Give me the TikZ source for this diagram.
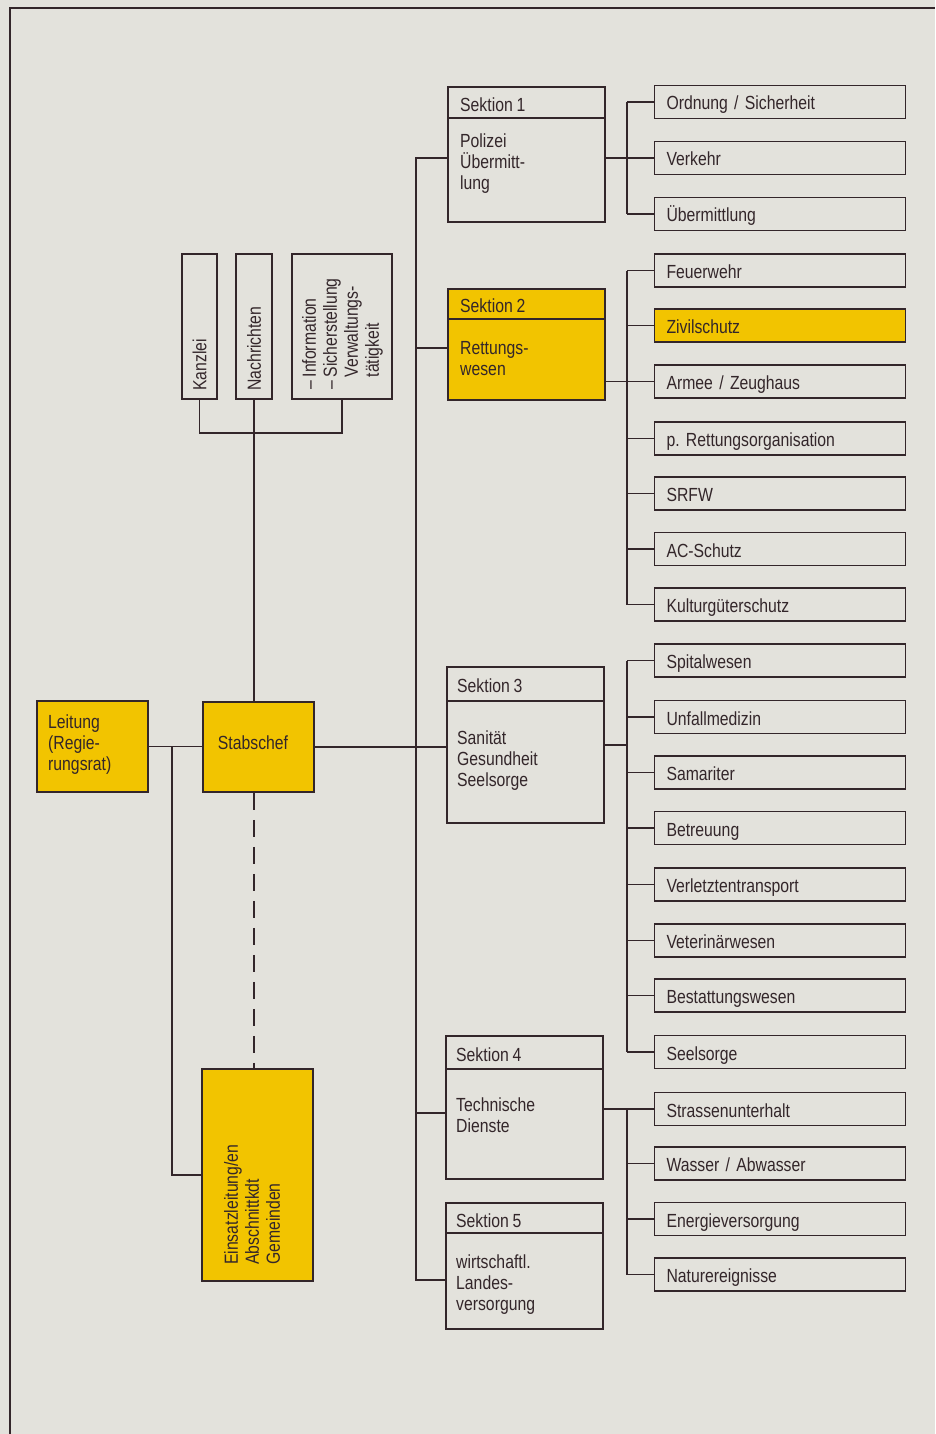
\documentclass[tikz,border=0pt]{standalone}
\usepackage{fontspec}
\setmainfont{Liberation Sans}[FakeStretch=0.83, WordSpace=0.85]
\frenchspacing
\definecolor{paper}{HTML}{E3E2DC}
\definecolor{ink}{HTML}{33262A}
\definecolor{gold}{HTML}{F2C400}
\begin{document}
\begin{tikzpicture}[x=1pt,y=-1pt,
  every node/.style={text=ink, font=\fontsize{19}{21}\selectfont\frenchspacing},
  line/.style={draw=ink, line width=1.8pt},
  frame/.style 2 args={draw=ink, line width=1.8pt, rectangle, inner sep=0pt, minimum width=#1, minimum height=#2},
  item/.style={draw=ink, line width=1.8pt, rectangle, minimum width=251pt, minimum height=33pt, text width=227pt, inner xsep=12pt, inner ysep=0pt, align=left, text height=17pt, text depth=1pt},
  lbl/.style={inner sep=0pt, anchor=west, align=left},
  vlbl/.style={inner sep=0pt, rotate=90, align=left},
  dashedline/.style={line, dash pattern=on 17pt off 10pt}
]
\fill[paper] (0,0) rectangle (935,1434);
\useasboundingbox (0,0) rectangle (935,1434);
% outer frame
\draw[line] (10,1434) -- (10,8) -- (935,8);

% left column boxes
\node[frame={111pt}{91pt}, fill=gold] (lei) at (92.5,746.5) {};
\node[lbl] (leit) at (48,745) {Leitung\\(Regie-\\rungsrat)};
\node[frame={111pt}{90pt}, fill=gold] (stab) at (258.5,747) {};
\node[inner sep=0pt] (stabt) at (253,743) {Stabschef};
\node[frame={111pt}{212pt}, fill=gold] (ein) at (257.5,1175) {};
\node[vlbl, anchor=north west] (eint) at (224,1265) {Einsatzleitung/en\\Abschnittkdt\\Gemeinden};

% staff boxes
\node[frame={35pt}{145pt}] (kan) at (199.5,326.5) {};
\node[vlbl, anchor=west] (kant) at (199.5,391) {Kanzlei};
\node[frame={36pt}{145pt}] (nach) at (254,326.5) {};
\node[vlbl, anchor=west] (nacht) at (254,391) {Nachrichten};
\node[frame={100pt}{145pt}] (info) at (342,326.5) {};
\node[vlbl, anchor=north west] (infot) at (302,390) {– Information\\– Sicherstellung\\\phantom{– }Verwaltungs-\\\phantom{– }tätigkeit};

% sections
\node[frame={157pt}{135pt}] (s1) at (526.5,154.5) {};
\draw[line] ([yshift=-32pt]s1.north west) -- ([yshift=-32pt]s1.north east);
\node[lbl] (s1h) at (460,105) {Sektion 1};
\node[lbl] (s1b) at (460,164) {Polizei\\Übermitt-\\lung};

\node[frame={157pt}{111pt}, fill=gold] (s2) at (526.5,344.5) {};
\draw[line] ([yshift=-31pt]s2.north west) -- ([yshift=-31pt]s2.north east);
\node[lbl] (s2h) at (460,306) {Sektion 2};
\node[lbl] (s2b) at (460,359) {Rettungs-\\wesen};

\node[frame={157pt}{156pt}] (s3) at (525.5,745) {};
\draw[line] ([yshift=-35pt]s3.north west) -- ([yshift=-35pt]s3.north east);
\node[lbl] (s3h) at (457,686) {Sektion 3};
\node[lbl] (s3b) at (457,761) {Sanität\\Gesundheit\\Seelsorge};

\node[frame={157pt}{143pt}] (s4) at (524.5,1107.5) {};
\draw[line] ([yshift=-34pt]s4.north west) -- ([yshift=-34pt]s4.north east);
\node[lbl] (s4h) at (456,1055) {Sektion 4};
\node[lbl] (s4b) at (456,1115) {Technische\\Dienste};

\node[frame={157pt}{126pt}] (s5) at (524.5,1266) {};
\draw[line] ([yshift=-31pt]s5.north west) -- ([yshift=-31pt]s5.north east);
\node[lbl] (s5h) at (456,1221) {Sektion 5};
\node[lbl] (s5b) at (456,1285) {wirtschaftl.\\Landes-\\versorgung};

% right items
\node[item] (r1) at (780,102) {Ordnung / Sicherheit};
\node[item] (r2) at (780,158) {Verkehr};
\node[item] (r3) at (780,214) {Übermittlung};
\node[item] (r4) at (780,270.5) {Feuerwehr};
\node[item, fill=gold] (r5) at (780,325.5) {Zivilschutz};
\node[item] (r6) at (780,381.5) {Armee / Zeughaus};
\node[item] (r7) at (780,438.5) {p. Rettungsorganisation};
\node[item] (r8) at (780,493.5) {SRFW};
\node[item] (r9) at (780,549) {AC-Schutz};
\node[item] (r10) at (780,604.5) {Kulturgüterschutz};
\node[item] (r11) at (780,660.5) {Spitalwesen};
\node[item] (r12) at (780,717) {Unfallmedizin};
\node[item] (r13) at (780,772.5) {Samariter};
\node[item] (r14) at (780,828) {Betreuung};
\node[item] (r15) at (780,884.5) {Verletztentransport};
\node[item] (r16) at (780,940.5) {Veterinärwesen};
\node[item] (r17) at (780,995.5) {Bestattungswesen};
\node[item] (r18) at (780,1052) {Seelsorge};
\node[item] (r19) at (780,1109) {Strassenunterhalt};
\node[item] (r20) at (780,1163.5) {Wasser / Abwasser};
\node[item] (r21) at (780,1219) {Energieversorgung};
\node[item] (r22) at (780,1274.5) {Naturereignisse};

% connectors: left part
\draw[line] (lei.east) -- (stab.west |- lei.east);
\coordinate (j) at (172,746.5);
\draw[line] (j) |- (ein.west);
\draw[line] (stab.east) -- (s3.west |- stab.east);
\coordinate (sb) at (0,433);
\draw[line] (kan.south) |- (info.south |- sb) -- (info.south);
\draw[line] (nach.south) -- (nach.south |- stab.north);
\draw[dashedline] (nach.south |- stab.south) -- (nach.south |- ein.north);

% main bus
\coordinate (c1) at (416,158);
\coordinate (c2) at (416,348);
\coordinate (c4) at (416,1113);
\coordinate (c5) at (416,1280);
\draw[line] (s1.west |- c1) -- (c1) -- (c5) -- (s5.west |- c5);
\draw[line] (c2) -- (s2.west |- c2);
\draw[line] (c4) -- (s4.west |- c4);

% right buses
\coordinate (g) at (627,0);
\draw[line] (g |- r1.west) -- (g |- r3.west);
\draw[line] (s1.east |- r2.west) -- (r2.west);
\foreach \i in {1,2,3} {\draw[line] (r\i.west) -- (g |- r\i.west);}
\draw[line] (g |- r4.west) -- (g |- r10.west);
\draw[line] (s2.east |- r6.west) -- (r6.west);
\foreach \i in {4,...,10} {\draw[line] (r\i.west) -- (g |- r\i.west);}
\draw[line] (g |- r11.west) -- (g |- r18.west);
\draw[line] (s3.east) -- (g |- s3.east);
\foreach \i in {11,...,18} {\draw[line] (r\i.west) -- (g |- r\i.west);}
\draw[line] (g |- r19.west) -- (g |- r22.west);
\draw[line] (s4.east |- r19.west) -- (r19.west);
\foreach \i in {19,...,22} {\draw[line] (r\i.west) -- (g |- r\i.west);}
\end{tikzpicture}
\end{document}
